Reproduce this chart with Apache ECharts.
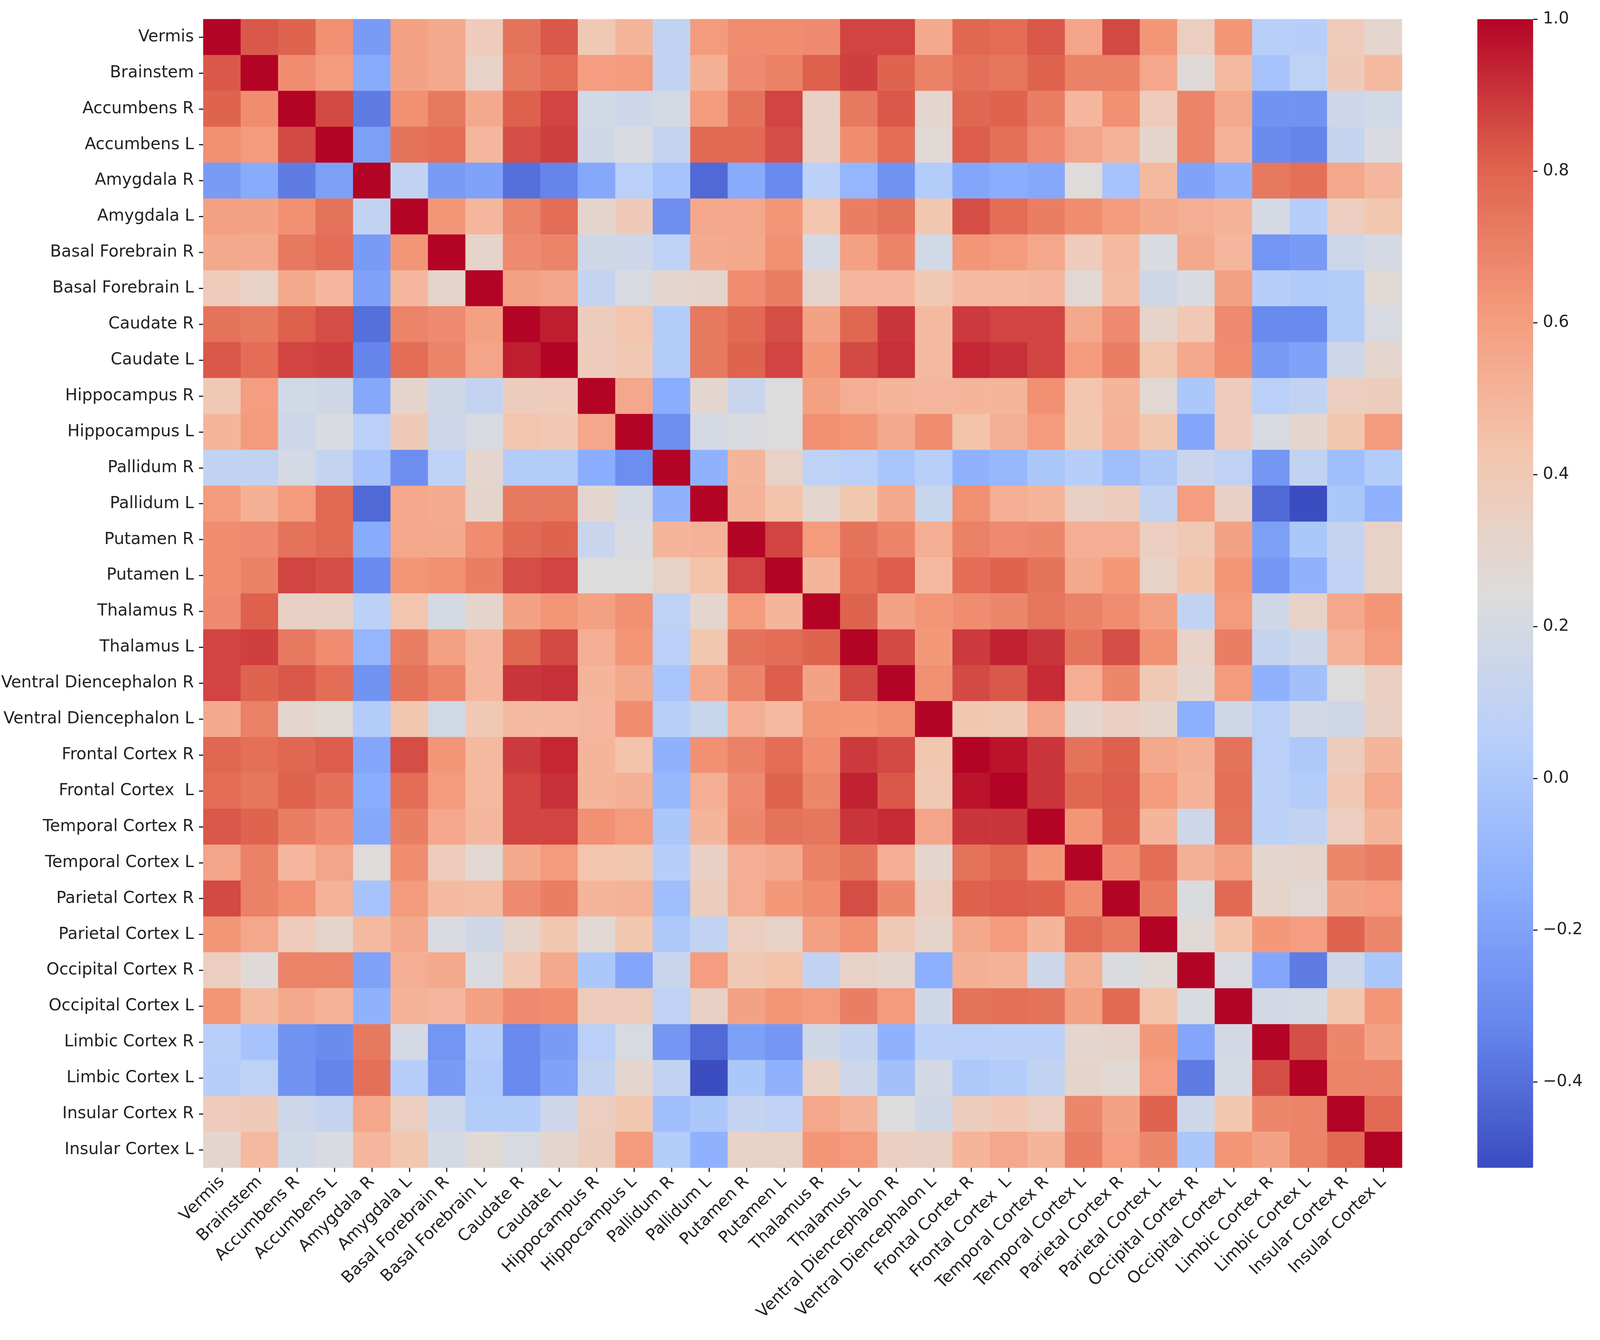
<!DOCTYPE html>
<html lang="en">
<head>
  <meta charset="UTF-8">
  <title>Correlation heatmap</title>
  <style>
    html, body { margin: 0; padding: 0; background: #fff; overflow: hidden; }
  </style>
</head>
<body>
  <div id="main" style="width:100vw;height:100vh"></div>
  <script src="https://cdn.jsdelivr.net/npm/echarts@6/dist/echarts.min.js"></script>
  <script>
    var regions = ['Vermis', 'Brainstem', 'Accumbens R', 'Accumbens L', 'Amygdala R', 'Amygdala L',
      'Basal Forebrain R', 'Basal Forebrain L', 'Caudate R', 'Caudate L', 'Hippocampus R', 'Hippocampus L',
      'Pallidum R', 'Pallidum L', 'Putamen R', 'Putamen L', 'Thalamus R', 'Thalamus L',
      'Ventral Diencephalon R', 'Ventral Diencephalon L', 'Frontal Cortex R', 'Frontal Cortex  L',
      'Temporal Cortex R', 'Temporal Cortex L', 'Parietal Cortex R', 'Parietal Cortex L',
      'Occipital Cortex R', 'Occipital Cortex L', 'Limbic Cortex R', 'Limbic Cortex L',
      'Insular Cortex R', 'Insular Cortex L']

    // upper triangle of the matrix, row i starts at column i
    var upperRows = [
      [1, .83, .8, .65, -.23, .59, .55, .38, .75, .83, .4, .5, .1, .61, .66, .66, .67, .87, .87, .55, .79, .77, .83, .57, .86, .63, .36, .63, .05, .04, .38, .3],
      [1, .66, .61, -.16, .58, .55, .33, .73, .77, .6, .61, .1, .52, .67, .7, .81, .88, .8, .7, .76, .74, .8, .7, .7, .56, .26, .48, -.02, .08, .39, .48],
      [1, .86, -.36, .65, .73, .55, .81, .87, .18, .16, .2, .61, .75, .87, .34, .73, .83, .3, .79, .8, .71, .49, .65, .38, .69, .55, -.27, -.27, .16, .18],
      [1, -.21, .75, .77, .49, .85, .88, .17, .22, .11, .78, .78, .85, .34, .66, .77, .27, .82, .76, .67, .57, .51, .31, .69, .51, -.3, -.33, .12, .22],
      [1, .1, -.23, -.2, -.4, -.33, -.17, .06, -.02, -.42, -.16, -.31, .07, -.1, -.27, .03, -.18, -.15, -.17, .25, -.02, .48, -.2, -.12, .73, .76, .56, .49],
      [1, .63, .49, .69, .77, .31, .39, -.29, .56, .56, .63, .43, .71, .75, .42, .85, .77, .71, .66, .61, .55, .53, .51, .2, .04, .36, .42],
      [1, .32, .67, .69, .17, .16, .08, .54, .55, .65, .2, .59, .69, .18, .63, .61, .56, .38, .48, .22, .55, .49, -.26, -.23, .15, .2],
      [1, .59, .57, .11, .21, .3, .31, .66, .71, .31, .49, .49, .4, .48, .48, .49, .28, .47, .17, .22, .59, .04, .02, .03, .27],
      [1, .95, .37, .43, .03, .73, .78, .85, .58, .79, .9, .48, .89, .87, .87, .55, .67, .32, .41, .67, -.31, -.31, .03, .21],
      [1, .38, .41, .03, .73, .8, .87, .63, .86, .91, .48, .93, .91, .87, .61, .71, .42, .55, .66, -.23, -.2, .16, .3],
      [1, .56, -.15, .29, .14, .24, .59, .53, .5, .49, .5, .5, .65, .43, .5, .28, .0, .38, .06, .1, .36, .37],
      [1, -.29, .2, .22, .24, .65, .63, .55, .66, .44, .52, .61, .42, .51, .42, -.18, .38, .21, .3, .42, .61],
      [1, -.12, .5, .33, .08, .06, -.01, .05, -.12, -.09, .0, .04, -.05, .01, .14, .09, -.25, .1, -.05, .03],
      [1, .51, .44, .3, .42, .55, .13, .65, .53, .5, .34, .37, .1, .6, .34, -.42, -.51, .0, -.12],
      [1, .87, .61, .75, .69, .53, .7, .67, .68, .53, .53, .36, .4, .58, -.21, .0, .11, .33],
      [1, .5, .77, .82, .48, .77, .8, .75, .55, .62, .33, .44, .63, -.25, -.12, .09, .33],
      [1, .8, .58, .63, .66, .68, .74, .7, .66, .59, .1, .61, .17, .33, .56, .63],
      [1, .86, .62, .89, .94, .9, .75, .85, .65, .33, .71, .12, .16, .51, .61],
      [1, .65, .86, .83, .92, .53, .68, .4, .3, .61, -.12, -.04, .24, .35],
      [1, .42, .4, .57, .3, .35, .32, -.14, .17, .07, .19, .17, .34],
      [1, .97, .9, .75, .81, .55, .52, .75, .06, .01, .37, .5],
      [1, .9, .79, .82, .61, .51, .76, .07, .03, .41, .56],
      [1, .63, .81, .5, .16, .75, .07, .1, .36, .5],
      [1, .66, .77, .52, .59, .3, .31, .68, .71],
      [1, .72, .23, .78, .32, .28, .58, .6],
      [1, .27, .44, .62, .6, .8, .68],
      [1, .22, -.18, -.36, .16, .0],
      [1, .19, .2, .42, .63],
      [1, .85, .68, .58],
      [1, .69, .69],
      [1, .78],
      [1]
    ]
    var colorbarTicks = [-0.4, -0.2, 0, 0.2, 0.4, 0.6, 0.8, 1]
    var valueMin = -0.513
    var valueMax = 1
    // coolwarm
    var coolwarm = ['#3b4cc0', '#6687ed', '#8db0fe', '#b9d0f9', '#dddcdc', '#f4c5ad', '#f4987a', '#de614d', '#b40426']

    var cells = []
    for (var i = 0; i < upperRows.length; i++) {
      for (var k = 0; k < upperRows[i].length; k++) {
        var j = i + k
        cells.push([j, i, upperRows[i][k]])
        if (j !== i) cells.push([i, j, upperRows[i][k]])
      }
    }

    var fontName = 'DejaVu Sans'
    var textColor = '#222222'
    var tickStyle = { show: true, length: 11, alignWithLabel: true, lineStyle: { color: '#222222', width: 3 } }

    var myChart = echarts.init(document.getElementById('main'))
    // reference is 4212 wide, the window may be narrower, so keep the x layout proportional
    var sx = myChart.getWidth() / 4212

    myChart.setOption({
      animation: false,
      backgroundColor: '#ffffff',
      tooltip: { show: false },
      grid: [
        { left: 532 * sx, top: 49, width: 3159 * sx, height: 2941 },
        { left: 3889 * sx, top: 49, width: 147 * sx, height: 2941 }
      ],
      xAxis: [
        {
          type: 'category',
          data: regions,
          gridIndex: 0,
          axisLine: { show: false },
          axisTick: tickStyle,
          splitLine: { show: false },
          axisLabel: { interval: 0, rotate: 45, margin: 30, padding: [0, 0, 30, 0], fontFamily: fontName, fontSize: 42, color: textColor }
        },
        { type: 'category', gridIndex: 1, show: false, data: [''] }
      ],
      yAxis: [
        {
          type: 'category',
          data: regions,
          inverse: true,
          gridIndex: 0,
          axisLine: { show: false },
          axisTick: tickStyle,
          splitLine: { show: false },
          axisLabel: { interval: 0, margin: 24, fontFamily: fontName, fontSize: 42, color: textColor }
        },
        {
          type: 'value',
          gridIndex: 1,
          position: 'right',
          min: valueMin,
          max: valueMax,
          axisLine: { show: false },
          splitLine: { show: false },
          axisTick: { show: true, length: 11, customValues: colorbarTicks, lineStyle: { color: '#222222', width: 3 } },
          axisLabel: {
            margin: 25,
            customValues: colorbarTicks,
            fontFamily: fontName,
            fontSize: 42,
            color: textColor,
            formatter: function (v) { return (v < 0 ? '\u2212' : '') + Math.abs(v).toFixed(1) }
          }
        }
      ],
      visualMap: {
        type: 'continuous',
        seriesIndex: 0,
        min: valueMin,
        max: valueMax,
        orient: 'vertical',
        left: 3889 * sx,
        top: 49,
        padding: 0,
        itemWidth: 147 * sx,
        itemHeight: 2941,
        calculable: false,
        showLabel: false,
        text: null,
        inRange: { color: coolwarm }
      },
      series: [
        {
          type: 'heatmap',
          xAxisIndex: 0,
          yAxisIndex: 0,
          data: cells,
          progressive: 0,
          emphasis: { disabled: true }
        }
      ]
    })
  </script>
</body>
</html>
